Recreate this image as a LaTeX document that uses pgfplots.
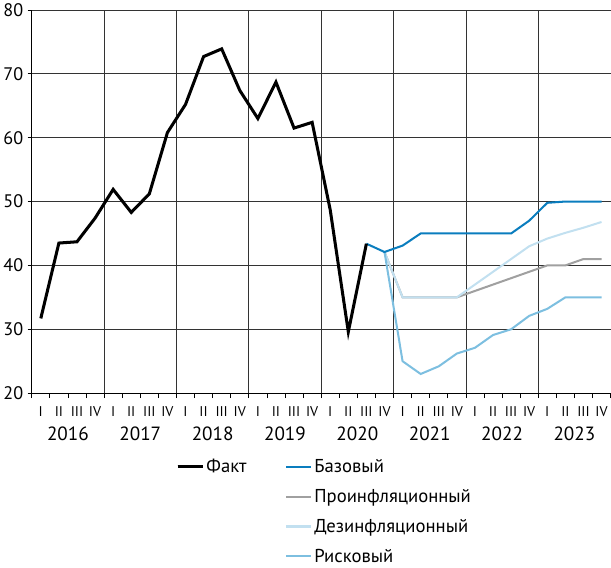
\documentclass[border=0pt]{standalone}
\usepackage{fontspec}
\setmainfont{PT Sans}
\usepackage{pgfplots}
\pgfplotsset{compat=1.18}

\definecolor{base}{HTML}{0A7DBE}
\definecolor{proinf}{HTML}{A0A0A0}
\definecolor{disinf}{HTML}{C2E0F0}
\definecolor{risk}{HTML}{7DBFE0}

\begin{document}
\begin{tikzpicture}
\begin{axis}[
  width=574pt, height=380pt, scale only axis,
  xmin=0, xmax=32, ymin=20, ymax=80,
  clip=false,
  axis x line=bottom, axis y line=left,
  axis line style={-, black, line width=0.8pt},
  ytick={20,30,...,80},
  ymajorgrids, grid style={black!80, line width=0.7pt},
  tick align=outside,
  major tick length=4pt, minor tick length=5pt,
  tick style={black, line width=0.7pt},
  xtick={0.5,1.5,...,31.5},
  xticklabels={I,II,III,IV,I,II,III,IV,I,II,III,IV,I,II,III,IV,
               I,II,III,IV,I,II,III,IV,I,II,III,IV,I,II,III,IV},
  x tick style={draw=none},
  minor xtick={0,1,...,32},
  minor x tick style={draw=black},
  x tick label style={font=\fontsize{14}{16}\selectfont, yshift=-6pt},
  y tick label style={font=\fontsize{18}{20}\selectfont, xshift=-1pt},
  /pgf/number format/assume math mode=true,
  legend columns=2,
  legend cell align=left,
  legend style={at={(0.244,-0.162)}, anchor=north west, draw=none, fill=none,
    font=\fontsize{18.5}{20}\selectfont, row sep=11pt,
    /tikz/every even column/.append style={column sep=36pt}},
  legend image code/.code={\draw[#1] (0pt,0pt) -- (22pt,0pt);
    \path (0pt,0pt) -- (25pt,0pt);},
]
\pgfplotsinvokeforeach{4,8,...,28}{
  \draw[black!80, line width=0.7pt] (axis cs:#1,20) -- (axis cs:#1,80);
}
\foreach \yr [count=\k from 0] in {2016,2017,2018,2019,2020,2021,2022,2023}{
  \edef\tmp{\noexpand\node[font=\noexpand\fontsize{19}{21}\noexpand\selectfont]
    at (axis cs:{\k*4+2},20) [yshift=-40pt] {\yr};}
  \tmp
}

\addplot[proinf, line width=2pt, forget plot] coordinates {
  (19.5,42.1)(20.5,35)(21.5,35)(22.5,35)(23.5,35)(24.5,36)(25.5,37)
  (26.5,38)(27.5,39)(28.5,40)(29.5,40)(30.5,41)(31.5,41)};
\addplot[disinf, line width=2pt, forget plot] coordinates {
  (19.5,42.1)(20.5,35)(21.5,35)(22.5,35)(23.5,35)(24.5,37)(25.5,39)
  (26.5,41)(27.5,43)(28.5,44.2)(29.5,45.1)(30.5,45.9)(31.5,46.8)};
\addplot[risk, line width=2pt, forget plot] coordinates {
  (19.5,42.1)(20.5,25)(21.5,23)(22.5,24.2)(23.5,26.2)(24.5,27.1)(25.5,29.1)
  (26.5,30)(27.5,32.1)(28.5,33.2)(29.5,35)(30.5,35)(31.5,35)};
\addplot[base, line width=2pt, forget plot] coordinates {
  (18.5,43.4)(19.5,42.1)(20.5,43.1)(21.5,45)(22.5,45)(23.5,45)(24.5,45)
  (25.5,45)(26.5,45)(27.5,47)(28.5,49.8)(29.5,50)(30.5,50)(31.5,50)};
\addplot[black, line width=3pt, forget plot] coordinates {
  (0.5,31.7)(1.5,43.5)(2.5,43.7)(3.5,47.4)(4.5,51.9)(5.5,48.3)(6.5,51.2)
  (7.5,60.8)(8.5,65.2)(9.5,72.7)(10.5,73.9)(11.5,67.4)(12.5,63.0)
  (13.5,68.7)(14.5,61.5)(15.5,62.4)(16.5,48.7)(17.5,29.6)(18.5,43.4)};

\addlegendimage{black, line width=3pt}
\addlegendentry{Факт}
\addlegendimage{base, line width=2.2pt}
\addlegendentry{Базовый}
\addlegendimage{empty legend}
\addlegendentry{}
\addlegendimage{proinf, line width=2.2pt}
\addlegendentry{Проинфляционный}
\addlegendimage{empty legend}
\addlegendentry{}
\addlegendimage{disinf, line width=2.2pt}
\addlegendentry{Дезинфляционный}
\addlegendimage{empty legend}
\addlegendentry{}
\addlegendimage{risk, line width=2.2pt}
\addlegendentry{Рисковый}
\end{axis}
\end{tikzpicture}
\end{document}
